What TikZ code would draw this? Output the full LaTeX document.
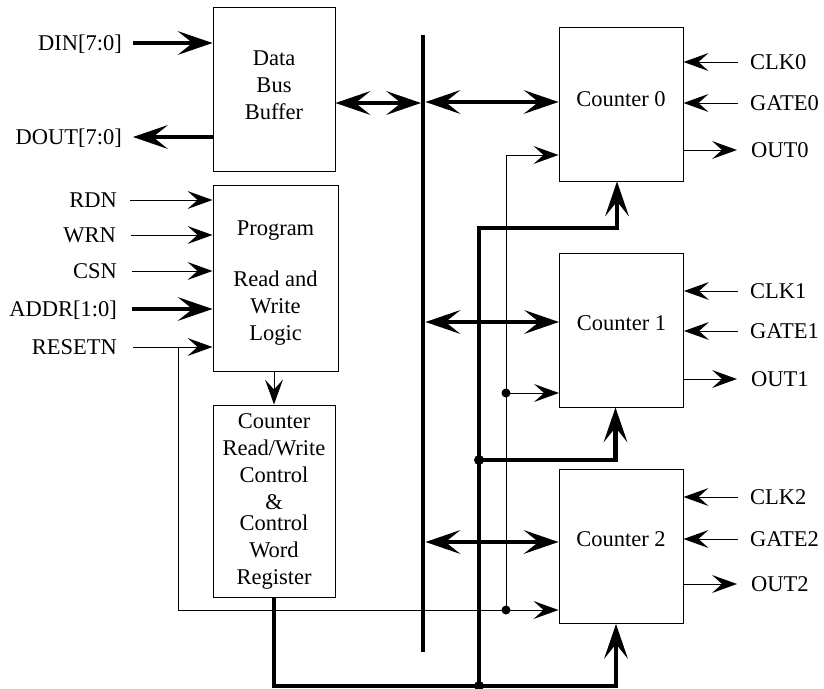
\documentclass[tikz,border=0pt]{standalone}
\usepackage{fontspec}
\setmainfont{Liberation Serif}
\usetikzlibrary{arrows.meta}
\newcommand{\shiftedlines}[2]{\raisebox{#1}[0pt][0pt]{\begin{tabular}{@{}c@{}}#2\end{tabular}}}
\tikzset{
  sArr/.tip={Stealth[length=25pt,width=18pt,inset=10pt,line width=0pt]},
  bArr/.tip={Stealth[length=35pt,width=24pt,inset=15pt,line width=0pt]},
  box/.style={draw,line width=1pt,inner sep=0pt,align=center},
  cbox/.style={draw,line width=1pt,inner sep=0pt,minimum width=124pt,minimum height=154pt,text height=15pt},
  lbl/.style={inner sep=0pt,text height=15pt,text depth=0pt},
  wire/.style={line width=1pt},
  bus/.style={line width=4.5pt,line join=miter},
  jdot/.style={circle,fill,inner sep=0pt,minimum size=#1},
  jdot/.default=10pt
}
\begin{document}
\begin{tikzpicture}[x=1pt,y=-1pt,font=\fontsize{22.5}{27}\selectfont]
\useasboundingbox (0,0) rectangle (824,688);

% blocks
\node[box,minimum width=122pt,minimum height=164pt] (dbb) at (274,89) {\shiftedlines{-3pt}{Data\\Bus\\Buffer}};
\node[box,minimum width=125pt,minimum height=186pt] (prog) at (275.5,278) {\shiftedlines{-9.5pt}{Program\\[24pt]Read and\\Write\\Logic}};
\node[box,minimum width=122pt,minimum height=192pt] (crw) at (274,501) {Counter\\Read/Write\\Control\\\&\\[-6pt]Control\\Word\\Register};
\node[cbox,text depth=10pt] (c0) at (621,104) {Counter 0};
\node[cbox,text depth=14pt] (c1) at (621.5,330) {Counter 1};
\node[cbox,text depth=15pt] (c2) at (621,546.5) {Counter 2};

% left labels
\node[lbl,anchor=east] (din) at (122,43) {DIN[7:0]};
\node[lbl,anchor=east] (dout) at (122,137) {DOUT[7:0]};
\node[lbl,anchor=east] (rdn) at (117,200) {RDN};
\node[lbl,anchor=east] (wrn) at (116,235) {WRN};
\node[lbl,anchor=east] (csn) at (117,271) {CSN};
\node[lbl,anchor=east] (addr) at (117,309) {ADDR[1:0]};
\node[lbl,anchor=east] (rst) at (117,347) {RESETN};

\draw[bus,-bArr] ([xshift=11pt]din.east) -- (din.east -| dbb.west);
\draw[bus,-bArr] (dout.east -| dbb.west) -- ([xshift=11pt]dout.east);
\draw[wire,-sArr] ([xshift=13pt]rdn.east) -- (rdn.east -| prog.west);
\draw[wire,-sArr] ([xshift=15pt]wrn.east) -- (wrn.east -| prog.west);
\draw[wire,-sArr] ([xshift=15pt]csn.east) -- (csn.east -| prog.west);
\draw[bus,-bArr] ([xshift=15pt]addr.east) -- (addr.east -| prog.west);
\draw[wire,-sArr] ([xshift=16pt]rst.east) -- (rst.east -| prog.west);

% program -> control register
\draw[wire,-sArr] (crw.north |- prog.south) -- (crw.north);

% main data bus
\coordinate (bt) at (423,35);
\coordinate (bb) at (423,652);
\draw[line width=4.7pt] (bt) -- (bb);
\coordinate (bd) at (421,103);
\draw[bus,bArr-bArr] (bd -| dbb.east) -- (bd);
\coordinate (b0) at (425.5,102);
\coordinate (b1) at (425.5,322);
\coordinate (b2) at (425.5,542);
\draw[bus,bArr-bArr] (b0) -- (b0 -| c0.west);
\draw[bus,bArr-bArr] (b1) -- (b1 -| c1.west);
\draw[bus,bArr-bArr] (b2) -- (b2 -| c2.west);

% control bus
\coordinate (jb) at (479,686);
\coordinate (jm) at (479,460);
\coordinate (jt) at (479,228);
\draw[bus,-bArr] (crw.south) |- (jb) -| ([xshift=-5pt]c2.south);
\draw[bus,-bArr] (jb) -- (jt) -| ([xshift=-4pt]c0.south);
\draw[bus,-bArr] (jm) -| ([xshift=-6pt]c1.south);
\node[jdot] (dm) at (jm) {};
\node[jdot] (db) at (jb) {};

% reset lines
\coordinate (rs) at (178,347);
\coordinate (v2) at (506,610);
\coordinate (v1) at (506,393);
\coordinate (v0) at (506,155);
\draw[wire,-sArr] (rs) |- (v2 -| c2.west);
\draw[wire,-sArr] (v2) |- (v0 -| c0.west);
\draw[wire,-sArr] (v1) -- (v1 -| c1.west);
\node[jdot=9pt] (dv1) at (v1) {};
\node[jdot=9pt] (dv2) at (v2) {};

% right side
\foreach \i/\yc/\yg/\yo in {0/62/103/150,1/291/331/379,2/497/539/584}{
  \node[lbl,anchor=west] (clk\i) at (750,\yc) {CLK\i};
  \node[lbl,anchor=west] (gate\i) at (750,\yg) {GATE\i};
  \node[lbl,anchor=west] (out\i) at (751,\yo) {OUT\i};
  \draw[wire,-sArr] ([xshift=-12pt]clk\i.west) -- (clk\i.west -| c\i.east);
  \draw[wire,-sArr] ([xshift=-12pt]gate\i.west) -- (gate\i.west -| c\i.east);
  \draw[wire,-sArr] (out\i.west -| c\i.east) -- ([xshift=-14pt]out\i.west);
}
\end{tikzpicture}
\end{document}
